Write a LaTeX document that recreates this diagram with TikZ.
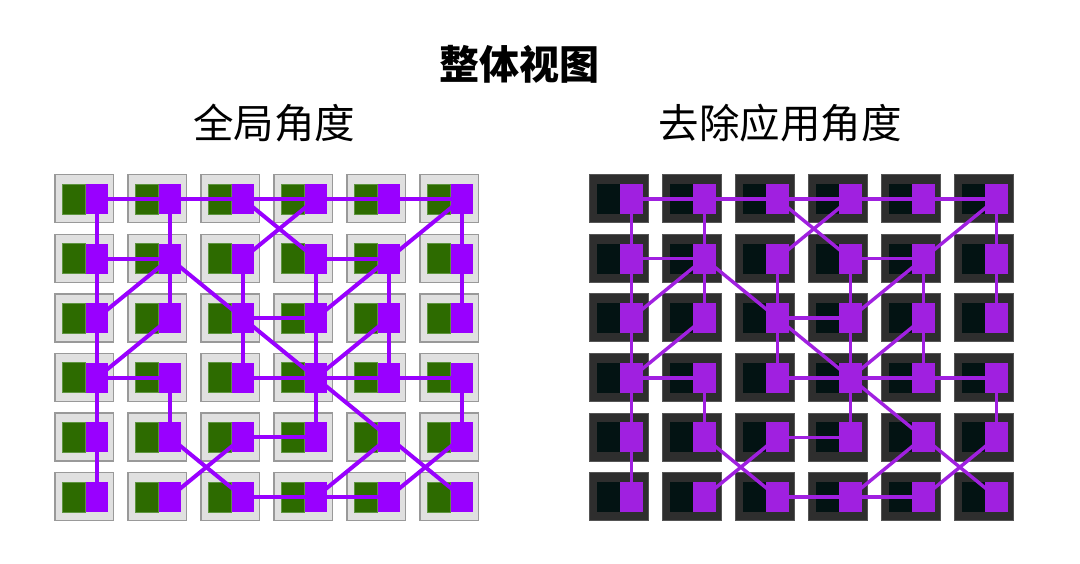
\documentclass[tikz,border=0pt]{standalone}
\usepackage{fontspec}
\newfontfamily\cjk{Noto Sans CJK SC}
\pgfdeclarelayer{bg}
\pgfdeclarelayer{edges}
\pgfsetlayers{bg,edges,main}
\definecolor{tileL}{HTML}{E0E0E0}
\definecolor{tileLb}{HTML}{999999}
\definecolor{greenL}{HTML}{2D6B00}
\definecolor{greenLb}{HTML}{5E9440}
\definecolor{purL}{HTML}{9900FF}
\definecolor{tileR}{HTML}{2E2E2E}
\definecolor{tileRb}{HTML}{555555}
\definecolor{innerR}{HTML}{031313}
\definecolor{purR}{HTML}{A020E0}
\tikzset{
  tileleft/.style={draw=tileLb, fill=tileL, line width=1.4pt, minimum width=58.5pt, minimum height=48pt, inner sep=0pt},
  greenleft/.style={draw=greenLb, fill=greenL, line width=0.7pt, minimum width=22.3pt, minimum height=30pt, inner sep=0pt},
  purleft/.style={fill=purL, minimum width=22.3pt, minimum height=30pt, inner sep=0pt},
  tileright/.style={draw=tileRb, fill=tileR, line width=1pt, minimum width=58.5pt, minimum height=48pt, inner sep=0pt},
  innerright/.style={fill=innerR, minimum width=30pt, minimum height=30pt, inner sep=0pt},
  purright/.style={fill=purR, minimum width=22.3pt, minimum height=30pt, inner sep=0pt},
  edgeleft/.style={draw=purL, line width=4pt},
  edgeright/.style={draw=purR, line width=3.4pt},
  titletext/.style={font=\cjk\bfseries\fontsize{40}{48}\selectfont, inner sep=0pt},
  subtext/.style={font=\cjk\fontsize{40.5}{48}\selectfont, inner sep=0pt},
}
\begin{document}
\begin{tikzpicture}[x=1pt,y=-1pt]
\useasboundingbox (0,0) rectangle (1080,564);
\begin{pgfonlayer}{bg}
\fill[white] (0,0) rectangle (1080,564);
\end{pgfonlayer}
\node[titletext] (title) at (519,64) {整体视图};
\node[subtext] (subL) at (274,123) {全局角度};
\node[subtext] (subR) at (780,123) {去除应用角度};
% tiles and purple squares
\foreach \c in {0,...,5}{
  \foreach \r in {0,...,5}{
    \pgfmathsetmacro{\px}{96.85+73*\c}
    \pgfmathsetmacro{\py}{199+59.6*\r}
    \pgfmathsetmacro{\qx}{\px+534.5}
    \begin{pgfonlayer}{bg}
      \node[tileleft] (TL-\c-\r) at (\px-12.6,\py-0.3) {};
      \node[greenleft] (GL-\c-\r) at (\px-23,\py) {};
      \node[tileright] (TR-\c-\r) at (\qx-12.6,\py-0.3) {};
      \node[innerright] (IR-\c-\r) at (\qx-19,\py) {};
    \end{pgfonlayer}
    \node[purleft] (L-\c-\r) at (\px,\py) {};
    \node[purright] (R-\c-\r) at (\qx,\py) {};
  }
}
\begin{pgfonlayer}{edges}
\foreach \g/\s in {L/edgeleft,R/edgeright}{
  \foreach \a/\b/\cc/\d in {
    0/0/1/0, 1/0/2/0, 2/0/3/0, 3/0/4/0, 4/0/5/0,
    0/1/1/1, 3/1/4/1, 2/2/3/2,
    0/3/1/3, 2/3/3/3, 3/3/4/3, 4/3/5/3,
    2/4/3/4, 2/5/3/5, 3/5/4/5,
    0/0/0/1, 0/1/0/2, 0/2/0/3, 0/3/0/4, 0/4/0/5,
    1/0/1/1, 1/1/1/2, 1/3/1/4,
    2/1/2/2, 2/2/2/3,
    3/1/3/2, 3/2/3/3, 3/3/3/4,
    4/1/4/2, 4/2/4/3,
    5/0/5/1, 5/1/5/2, 5/3/5/4,
    2/0/3/1, 3/0/2/1, 1/1/0/2, 1/1/2/2, 1/2/0/3, 2/2/3/3,
    5/0/4/1, 4/1/3/2, 4/2/3/3, 3/3/4/4,
    4/4/3/5, 4/4/5/5, 5/4/4/5, 1/4/2/5, 2/4/1/5}{
    \draw[\s] (\g-\a-\b.center) -- (\g-\cc-\d.center);
  }
}
\end{pgfonlayer}
\end{tikzpicture}
\end{document}
